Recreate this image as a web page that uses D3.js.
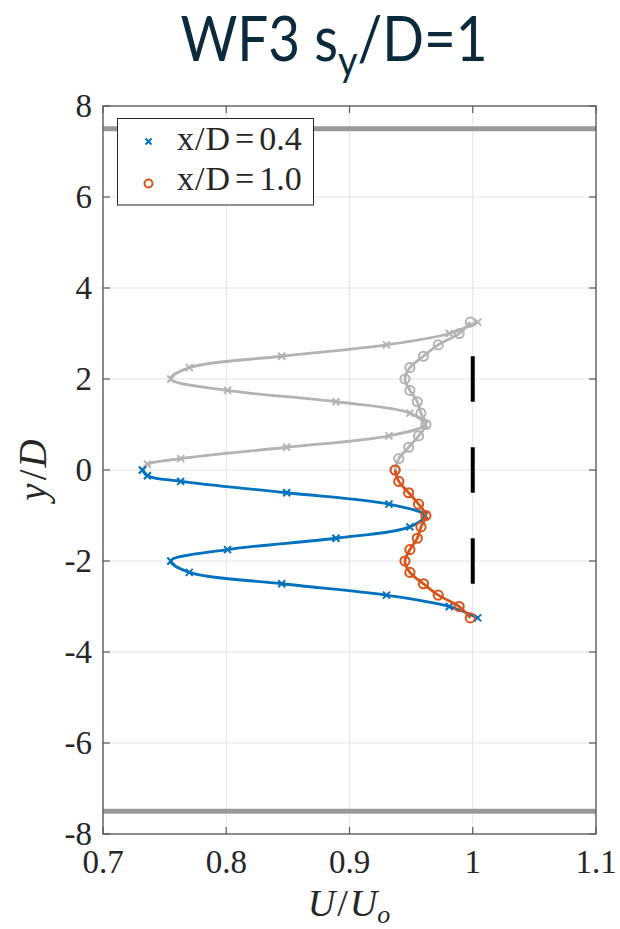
<!DOCTYPE html>
<html>
<head>
<meta charset="utf-8">
<script src="https://cdn.jsdelivr.net/npm/d3@7"></script>
<style>
  html, body { margin: 0; padding: 0; background: #ffffff; }
  svg { display: block; }
</style>
</head>
<body>
<svg id="chart" width="620" height="929"></svg>
<script>
// Streamwise velocity profiles behind the turbine row, lower half measured,
// upper half shown as its mirror image about y/D = 0.
const yNear = [0, -0.125, -0.25, -0.5, -0.75, -1.0, -1.25, -1.5, -1.75, -2.0, -2.25, -2.5, -2.75, -3.0, -3.25];
const uNear = [0.732, 0.736, 0.763, 0.849, 0.932, 0.961, 0.949, 0.889, 0.801, 0.755, 0.770, 0.845, 0.930, 0.981, 1.004];

const yFar = [0, -0.25, -0.5, -0.75, -1.0, -1.25, -1.5, -1.75, -2.0, -2.25, -2.5, -2.75, -3.0, -3.25];
const uFar = [0.937, 0.940, 0.948, 0.956, 0.962, 0.958, 0.955, 0.949, 0.945, 0.949, 0.960, 0.972, 0.989, 0.998];

// Rotor discs at U/Uo = 1, each spanning one diameter
const rotorCentres = [2, 0, -2];
const rotorU = 1.0;
// Channel side walls
const wallY = [7.5, -7.5];

const seriesNames = ["x/D", "x/D"];
const seriesValues = ["0.4", "1.0"];
const xTicks = [0.7, 0.8, 0.9, 1.0, 1.1];
const xTickLabels = ["0.7", "0.8", "0.9", "1", "1.1"];
const yTicks = [-8, -6, -4, -2, 0, 2, 4, 6, 8];
const yTickLabels = ["-8", "-6", "-4", "-2", "0", "2", "4", "6", "8"];

const BLUE = "#0072BD", ORANGE = "#D95319", MIRROR = "#b3b3b3";

const svg = d3.select("#chart");
const plot = { left: 103, right: 596, top: 106, bottom: 834 };

const x = d3.scaleLinear().domain([0.7, 1.1]).range([plot.left, plot.right]);
const y = d3.scaleLinear().domain([-8, 8]).range([plot.bottom, plot.top]);

// Title
const title = svg.append("text")
  .attr("transform", "translate(334,61) scale(0.9,1)")
  .attr("text-anchor", "middle")
  .style("font-family", "Lato, 'Open Sans', sans-serif")
  .style("font-size", "61px")
  .style("fill", "#0b2a3c");
title.append("tspan").text("WF3 s");
title.append("tspan").attr("dy", 15).style("font-size", "42px").text("y");
title.append("tspan").attr("dy", -15).text("/D=1");

// Grid
const grid = svg.append("g").attr("stroke", "#e3e3e3").attr("stroke-width", 1);
grid.selectAll("line.gx").data(xTicks.slice(1, -1)).join("line")
  .attr("x1", d => x(d)).attr("x2", d => x(d))
  .attr("y1", plot.top).attr("y2", plot.bottom);
grid.selectAll("line.gy").data(yTicks.slice(1, -1)).join("line")
  .attr("x1", plot.left).attr("x2", plot.right)
  .attr("y1", d => y(d)).attr("y2", d => y(d));

// Walls
svg.append("g").selectAll("line").data(wallY).join("line")
  .attr("x1", plot.left).attr("x2", plot.right)
  .attr("y1", d => y(d)).attr("y2", d => y(d))
  .attr("stroke", "#999999").attr("stroke-width", 5);

// Rotors
svg.append("g").selectAll("line").data(rotorCentres).join("line")
  .attr("x1", x(rotorU)).attr("x2", x(rotorU))
  .attr("y1", d => y(d + 0.5)).attr("y2", d => y(d - 0.5))
  .attr("stroke", "#000").attr("stroke-width", 4);

const near = yNear.map((v, i) => ({ y: v, u: uNear[i] }));
const far = yFar.map((v, i) => ({ y: v, u: uFar[i] }));
const mirror = arr => arr.map(d => ({ y: -d.y, u: d.u }));

const line = d3.line().x(d => x(d.u)).y(d => y(d.y)).curve(d3.curveCatmullRom.alpha(0.5));

function crossPath(cx, cy, s) {
  const p = d3.path();
  p.moveTo(cx - s, cy - s); p.lineTo(cx + s, cy + s);
  p.moveTo(cx - s, cy + s); p.lineTo(cx + s, cy - s);
  return p.toString();
}

function drawSeries(data, colour, marker) {
  const g = svg.append("g");
  g.append("path").attr("d", line(data))
    .attr("fill", "none").attr("stroke", colour).attr("stroke-width", 2.8);
  if (marker === "x") {
    g.selectAll("path.m").data(data).join("path").attr("class", "m")
      .attr("d", d => crossPath(x(d.u), y(d.y), 3.5))
      .attr("stroke", colour).attr("stroke-width", 2).attr("fill", "none");
  } else {
    g.selectAll("circle").data(data).join("circle")
      .attr("cx", d => x(d.u)).attr("cy", d => y(d.y)).attr("r", 4.6)
      .attr("fill", "none").attr("stroke", colour).attr("stroke-width", 2);
  }
}

drawSeries(mirror(near), MIRROR, "x");
drawSeries(mirror(far), MIRROR, "o");
drawSeries(near, BLUE, "x");
drawSeries(far, ORANGE, "o");

// Axes box with inward ticks on all sides
const axisColour = "#5a5a5a";
svg.append("rect")
  .attr("x", plot.left).attr("y", plot.top)
  .attr("width", plot.right - plot.left).attr("height", plot.bottom - plot.top)
  .attr("fill", "none").attr("stroke", axisColour).attr("stroke-width", 1.4);

const ticks = svg.append("g").attr("stroke", axisColour).attr("stroke-width", 1.2);
xTicks.forEach(t => {
  ticks.append("line").attr("x1", x(t)).attr("x2", x(t)).attr("y1", plot.bottom).attr("y2", plot.bottom - 7);
  ticks.append("line").attr("x1", x(t)).attr("x2", x(t)).attr("y1", plot.top).attr("y2", plot.top + 7);
});
yTicks.forEach(t => {
  ticks.append("line").attr("x1", plot.left).attr("x2", plot.left + 7).attr("y1", y(t)).attr("y2", y(t));
  ticks.append("line").attr("x1", plot.right).attr("x2", plot.right - 7).attr("y1", y(t)).attr("y2", y(t));
});

const serif = "'Liberation Serif', 'DejaVu Serif', serif";
svg.append("g").selectAll("text").data(xTicks).join("text")
  .attr("x", d => x(d)).attr("y", 873)
  .attr("text-anchor", "middle")
  .style("font-family", serif).style("font-size", "33px").style("fill", "#262626")
  .text((d, i) => xTickLabels[i]);
svg.append("g").selectAll("text").data(yTicks).join("text")
  .attr("x", 92).attr("y", d => y(d) + 11)
  .attr("text-anchor", "end")
  .style("font-family", serif).style("font-size", "33px").style("fill", "#262626")
  .text((d, i) => yTickLabels[i]);

// Axis labels
const xl = svg.append("text")
  .attr("x", 349).attr("y", 916).attr("text-anchor", "middle")
  .style("font-family", serif).style("font-style", "italic")
  .style("font-size", "38px").style("fill", "#262626");
xl.append("tspan").text("U");
xl.append("tspan").style("font-style", "normal").attr("dx", 2).text("/");
xl.append("tspan").attr("dx", 2).text("U");
xl.append("tspan").attr("dy", 7).style("font-size", "26px").text("o");

const yl = svg.append("text")
  .attr("transform", "translate(46,470) rotate(-90)")
  .attr("text-anchor", "middle")
  .style("font-family", serif).style("font-style", "italic")
  .style("font-size", "39px").style("fill", "#262626");
yl.append("tspan").text("y");
yl.append("tspan").style("font-style", "normal").attr("dx", 3).text("/");
yl.append("tspan").attr("dx", 2).text("D");

// Legend
const leg = svg.append("g");
leg.append("rect").attr("x", 117.5).attr("y", 118.5).attr("width", 196).attr("height", 86.5)
  .attr("fill", "#fff").attr("stroke", "#262626").attr("stroke-width", 1);
leg.append("path").attr("d", crossPath(148.5, 141.5, 3))
  .attr("stroke", BLUE).attr("stroke-width", 2).attr("fill", "none");
leg.append("circle").attr("cx", 148.5).attr("cy", 183.5).attr("r", 4)
  .attr("fill", "none").attr("stroke", ORANGE).attr("stroke-width", 2);
const legText = leg.selectAll("text").data(seriesNames).join("text")
  .attr("x", 177).attr("y", (d, i) => 150 + i * 40)
  .style("font-family", serif).style("font-size", "34px").style("fill", "#262626");
legText.append("tspan").text(d => d.replace("/", ""));
legText.each(function (d, i) {
  const t = d3.select(this);
  t.selectAll("tspan").remove();
  t.append("tspan").text("x");
  t.append("tspan").attr("dx", 1).text("/");
  t.append("tspan").attr("dx", 1).text("D");
  t.append("tspan").attr("dx", 5).text("=");
  t.append("tspan").attr("dx", 5).text(seriesValues[i]);
});
</script>
</body>
</html>
